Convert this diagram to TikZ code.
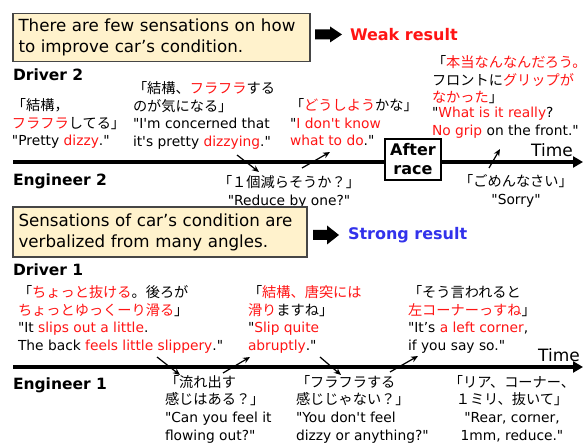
\documentclass[tikz,border=0pt]{standalone}
\usepackage{fontspec}
\newfontfamily\en{DejaVu Sans}
\newfontfamily\jp{Noto Sans CJK JP}
\usetikzlibrary{arrows.meta}
\definecolor{rd}{RGB}{255,20,20}
\definecolor{bl}{RGB}{50,50,235}
\definecolor{beige}{RGB}{255,242,204}
\definecolor{bord}{RGB}{70,70,70}
\newcommand{\rr}[1]{\textcolor{rd}{#1}}
\newcommand{\jq}{\fontsize{14.2}{17.7}\selectfont\jp}
\newcommand{\qf}{\en\fontsize{13.8}{17.7}\selectfont}
\newcommand{\st}{\rule{0pt}{12.5pt}}
\begin{document}
\begin{tikzpicture}[x=1pt,y=-1pt,
  every node/.style={inner sep=0pt,outer sep=0pt},
  quote/.style={anchor=north west,align=left,font=\qf},
  cquote/.style={anchor=north,align=center,font=\qf},
  lab/.style={anchor=base west,font=\en\bfseries\fontsize{15.5}{18}\selectfont},
  sbox/.style={draw=bord,fill=beige,line width=1.3pt,anchor=north west,align=left,
    inner xsep=5.5pt,font=\en\fontsize{16.7}{21}\selectfont},
  result/.style={anchor=west,font=\en\bfseries\fontsize{16}{19}\selectfont},
  timeline/.style={line width=3.2pt,-{Triangle[length=10pt,width=11pt]}},
  talk/.style={line width=1.2pt,-{Stealth[length=7pt,width=6pt]}},
  fat/.style={fill=black},
  timelab/.style={font=\en\fontsize{17}{20}\selectfont}]
\useasboundingbox (0,0) rectangle (583,443);

% ---------- top half ----------
\node[sbox,text width=286pt,minimum height=48pt] (box1) at (13,13.5)
  {There are few sensations on how\\to improve car’s condition.};
\fill[fat] (315,29.5) -- (330,29.5) -- (330,26.5) -- (342,34.5) -- (330,42.5) -- (330,39.5) -- (315,39.5) -- cycle;
\node[result,text=rd] (weak) at (350,35) {Weak result};

\node[lab] (drv2) at (13,81) {Driver 2};

\coordinate (t1s) at (13,162);
\coordinate (t1e) at (583,162);
\draw[timeline] (t1s) -- (t1e);
\node[timelab] (time1) at (552,150) {Time};
\node[draw,fill=white,line width=1.2pt,minimum width=56pt,minimum height=41pt,anchor=north west,
  align=center,font=\en\bfseries\fontsize{16}{19}\selectfont] (after) at (385,139) {After\\race};

\node[lab] (eng2) at (13,186) {Engineer 2};

\node[quote] (d2a) at (12,97.9)
  {\st{\jq 「結構，}\\{\jq \rr{フラフラ}してる」}\\"Pretty \rr{dizzy}."};
\node[quote] (d2b) at (133,80.9)
  {\st{\jq 「結構、\rr{フラフラ}する}\\{\jq のが気になる」}\\"I'm concerned that\\it's pretty \rr{dizzying}."};
\node[quote] (d2c) at (290,97.9)
  {\st{\jq 「\rr{どうしよう}かな」}\\"\rr{I don't know}\\\rr{what to do}."};
\node[quote] (d2d) at (432,54.9)
  {\st{\jq 「\rr{本当なんなんだろう。}}\\{\jq フロントに\rr{グリップが}}\\{\jq \rr{なかった}」}\\[-2.7pt]"\rr{What is it really}?\\\rr{No grip} on the front."};

\node[cquote] (e2a) at (289,174.9)
  {\st{\jq 「１個減らそうか？」}\\"Reduce by one?"};
\node[cquote] (e2b) at (516,173.9)
  {\st{\jq 「ごめんなさい」}\\"Sorry"};

\coordinate (a1s) at (237,155);
\coordinate (a1e) at (259,172);
\coordinate (a2s) at (302,168);
\coordinate (a2e) at (330,152);
\coordinate (a3s) at (489,168);
\coordinate (a3e) at (500,149);
\draw[talk] (a1s) -- (a1e);
\draw[talk] (a2s) -- (a2e);
\draw[talk] (a3s) -- (a3e);

% ---------- bottom half ----------
\node[sbox,text width=283pt,minimum height=50pt] (box2) at (13,207)
  {Sensations of car’s condition are\\verbalized from many angles.};
\fill[fat] (313,230) -- (327,230) -- (327,225.5) -- (339,235) -- (327,244.5) -- (327,240) -- (313,240) -- cycle;
\node[result,text=bl] (strong) at (348,235) {Strong result};

\node[lab] (drv1) at (13,276) {Driver 1};

\node[quote] (d1a) at (18,284.9)
  {\st{\jq 「\rr{ちょっと抜ける}。後ろが}\\{\jq \rr{ちょっとゆっくーり滑る}」}\\"It \rr{slips out a little}.\\The back \rr{feels little slippery}."};
\node[quote] (d1b) at (248,284.9)
  {\st{\jq 「\rr{結構、唐突には}}\\{\jq \rr{滑り}ますね」}\\"\rr{Slip quite}\\\rr{abruptly}."};
\node[quote] (d1c) at (408,284.9)
  {\st{\jq 「そう言われると}\\{\jq \rr{左コーナーっすね}」}\\"It’s \rr{a left corner},\\if you say so."};

\coordinate (t2s) at (13,367);
\coordinate (t2e) at (583,367);
\draw[timeline] (t2s) -- (t2e);
\node[timelab] (time2) at (559,355) {Time};

\node[lab] (eng1) at (13,389) {Engineer 1};

\node[quote] (e1a) at (165,374.6)
  {\st{\jq 「流れ出す}\\{\jq 感じはある？」}\\"Can you feel it\\flowing out?"};
\node[quote] (e1b) at (296,374.6)
  {\st{\jq 「フラフラする}\\{\jq 感じじゃない？」}\\"You don't feel\\dizzy or anything?"};
\node[cquote] (e1c) at (512,374.6)
  {\st{\jq 「リア、コーナー、}\\{\jq １ミリ、抜いて」}\\"Rear, corner,\\1mm, reduce."};

\coordinate (b1s) at (157,357);
\coordinate (b1e) at (180,375);
\coordinate (b2s) at (223,373);
\coordinate (b2e) at (250,357);
\coordinate (b3s) at (320,357);
\coordinate (b3e) at (341,375);
\coordinate (b4s) at (390,372);
\coordinate (b4e) at (418,356);
\draw[talk] (b1s) -- (b1e);
\draw[talk] (b2s) -- (b2e);
\draw[talk] (b3s) -- (b3e);
\draw[talk] (b4s) -- (b4e);
\end{tikzpicture}
\end{document}
